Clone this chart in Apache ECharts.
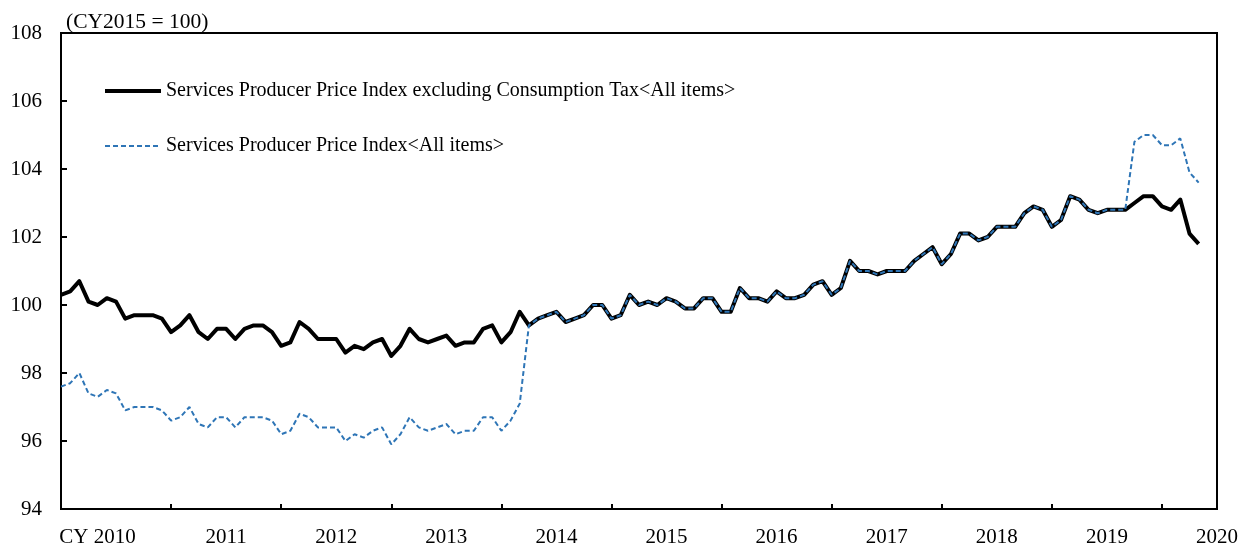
<!DOCTYPE html>
<html>
<head>
<meta charset="utf-8">
<script src="https://cdn.jsdelivr.net/npm/echarts@6/dist/echarts.min.js"></script>
<style>html,body{margin:0;padding:0;background:#fff;}#c{width:1239px;height:544px;}</style>
</head>
<body>
<div id="c"></div>
<script>
// Monthly, Jan 2010 .. May 2020
const startYear = 2010;
const seriesNames = [
  'Services Producer Price Index excluding Consumption Tax<All items>',
  'Services Producer Price Index<All items>'
];
const exclTax = [
  100.3,100.4,100.7,100.1,100.0,100.2,100.1,99.6,99.7,99.7,99.7,99.6,
  99.2,99.4,99.7,99.2,99.0,99.3,99.3,99.0,99.3,99.4,99.4,99.2,
  98.8,98.9,99.5,99.3,99.0,99.0,99.0,98.6,98.8,98.7,98.9,99.0,
  98.5,98.8,99.3,99.0,98.9,99.0,99.1,98.8,98.9,98.9,99.3,99.4,
  98.9,99.2,99.8,99.4,99.6,99.7,99.8,99.5,99.6,99.7,100.0,100.0,
  99.6,99.7,100.3,100.0,100.1,100.0,100.2,100.1,99.9,99.9,100.2,100.2,
  99.8,99.8,100.5,100.2,100.2,100.1,100.4,100.2,100.2,100.3,100.6,100.7,
  100.3,100.5,101.3,101.0,101.0,100.9,101.0,101.0,101.0,101.3,101.5,101.7,
  101.2,101.5,102.1,102.1,101.9,102.0,102.3,102.3,102.3,102.7,102.9,102.8,
  102.3,102.5,103.2,103.1,102.8,102.7,102.8,102.8,102.8,103.0,103.2,103.2,
  102.9,102.8,103.1,102.1,101.8
];
const inclTax = [
  97.6,97.7,98.0,97.4,97.3,97.5,97.4,96.9,97.0,97.0,97.0,96.9,
  96.6,96.7,97.0,96.5,96.4,96.7,96.7,96.4,96.7,96.7,96.7,96.6,
  96.2,96.3,96.8,96.7,96.4,96.4,96.4,96.0,96.2,96.1,96.3,96.4,
  95.9,96.2,96.7,96.4,96.3,96.4,96.5,96.2,96.3,96.3,96.7,96.7,
  96.3,96.6,97.1,99.4,99.6,99.7,99.8,99.5,99.6,99.7,100.0,100.0,
  99.6,99.7,100.3,100.0,100.1,100.0,100.2,100.1,99.9,99.9,100.2,100.2,
  99.8,99.8,100.5,100.2,100.2,100.1,100.4,100.2,100.2,100.3,100.6,100.7,
  100.3,100.5,101.3,101.0,101.0,100.9,101.0,101.0,101.0,101.3,101.5,101.7,
  101.2,101.5,102.1,102.1,101.9,102.0,102.3,102.3,102.3,102.7,102.9,102.8,
  102.3,102.5,103.2,103.1,102.8,102.7,102.8,102.8,102.8,104.8,105.0,105.0,
  104.7,104.7,104.9,103.9,103.6
];
const yearLabels = ['CY 2010','2011','2012','2013','2014','2015','2016','2017','2018','2019','2020'];
const yTicks = { min: 94, max: 108, step: 2 };

const font = 'Liberation Serif, Times New Roman, serif';
const yearTickPos = yearLabels.slice(1).map((_, k) => (k + 1) * 12);
const yearLabelPos = yearLabels.map((_, k) => k * 12 + 6);
const blue = '#2E75B6';

const chart = echarts.init(document.getElementById('c'), null, { renderer: 'canvas' });
chart.setOption({
  animation: false,
  backgroundColor: '#fff',
  title: {
    text: '(CY2015 = 100)', left: 61, top: 6,
    textStyle: { fontFamily: font, fontSize: 21.5, fontWeight: 'normal', color: '#000' }
  },
  legend: {
    orient: 'vertical', left: 98, top: 76, itemGap: 35,
    itemWidth: 56, itemHeight: 22,
    itemStyle: { opacity: 0 },
    textStyle: { fontFamily: font, fontSize: 20, color: '#000' },
    data: [
      { name: seriesNames[0], lineStyle: { color: '#000', width: 4 } },
      { name: seriesNames[1], lineStyle: { color: blue, width: 2, type: [5, 3] } }
    ]
  },
  grid: { left: 61, right: 22, top: 33, bottom: 35, show: true, borderColor: '#000', borderWidth: 2, containLabel: false, outerBoundsMode: 'none' },
  xAxis: {
    type: 'value', min: 0, max: yearLabels.length * 12 - 6,
    axisLine: { lineStyle: { color: '#000', width: 2 } },
    splitLine: { show: false },
    axisTick: { inside: true, length: 5, customValues: yearTickPos, lineStyle: { color: '#000', width: 2 } },
    axisLabel: {
      customValues: yearLabelPos, margin: 18, color: '#000', fontFamily: font, fontSize: 21,
      formatter: v => {
        const k = Math.round((v - 6) / 12);
        const t = yearLabels[k];
        return k === 0 ? '{cy|' + t + '}' : t;
      },
      rich: { cy: { fontFamily: font, fontSize: 21, color: '#000', padding: [0, 37, 0, 0] } }
    }
  },
  yAxis: {
    type: 'value', min: yTicks.min, max: yTicks.max, interval: yTicks.step,
    axisLine: { show: true, lineStyle: { color: '#000', width: 2 } },
    splitLine: { show: false },
    axisTick: { show: true, inside: true, length: 6, lineStyle: { color: '#000', width: 2 } },
    axisLabel: { margin: 19, color: '#000', fontFamily: font, fontSize: 21 }
  },
  series: [
    {
      name: seriesNames[0], type: 'line', symbol: 'none',
      lineStyle: { color: '#000', width: 4, join: 'round' },
      itemStyle: { color: '#000' },
      data: exclTax.map((v, i) => [i, v]), z: 2
    },
    {
      name: seriesNames[1], type: 'line', symbol: 'none',
      lineStyle: { color: blue, width: 2, type: [5, 3] },
      itemStyle: { color: blue },
      data: inclTax.map((v, i) => [i, v]), z: 3
    }
  ]
});
</script>
</body>
</html>
